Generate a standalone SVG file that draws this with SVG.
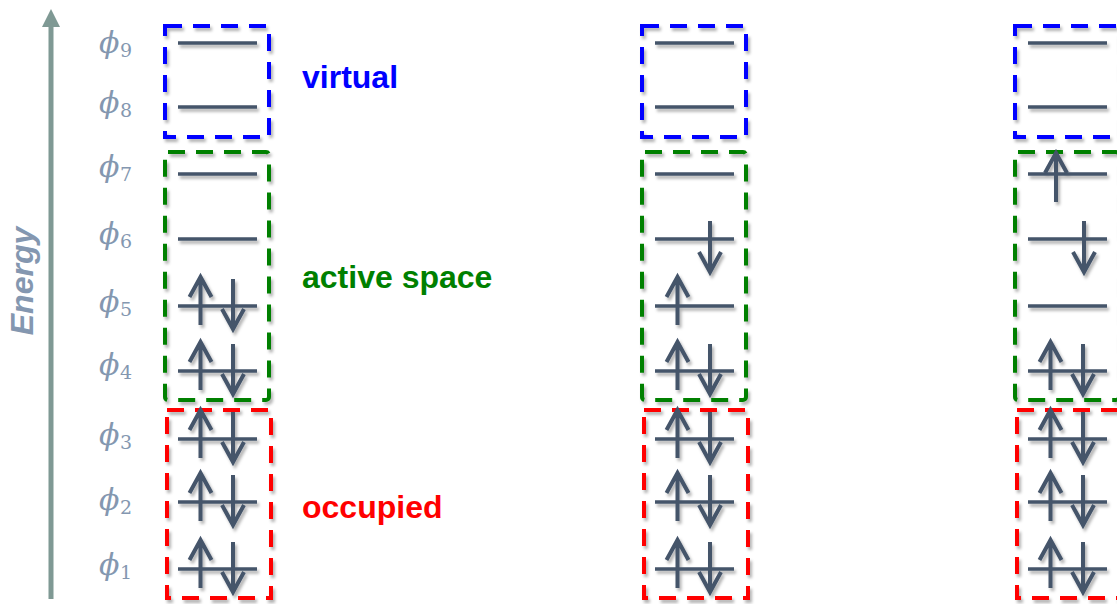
<svg xmlns="http://www.w3.org/2000/svg" width="1117" height="604" viewBox="0 0 1117 604">
<style>
.lvl{stroke:#44546a;stroke-width:3.5;fill:none}
.el{stroke:#44546a;stroke-width:4;fill:none;stroke-linejoin:miter}
.box{fill:none;stroke-width:4;stroke-dasharray:17 11}
.vir{stroke:#0000ff}
.act{stroke:#008000}
.occ{stroke:#ff0000}
.phi{font-family:"DejaVu Serif",serif;font-style:italic;font-size:30px;fill:#8497b0}
.sub{font-family:"DejaVu Serif",serif;font-style:normal;font-size:19px;fill:#8497b0}
.lab{font-family:"Liberation Sans",Arial,sans-serif;font-weight:bold;font-size:32px}
</style>
<defs>
<filter id="sh" filterUnits="userSpaceOnUse" x="0" y="0" width="1117" height="604">
<feDropShadow dx="2" dy="3" stdDeviation="1.6" flood-color="#000" flood-opacity="0.3"/>
</filter>
<path id="lv" class="lvl" d="M178 0H257"/>
<path id="up" class="el" d="M0 19V-29M-11 -9L0 -29L11 -9"/>
<path id="dn" class="el" d="M0 -27V23M-11 3L0 23L11 3"/>
<path id="up2" class="el" d="M0 28V-21M-11 -1L0 -21L11 -1"/>
<path id="dn2" class="el" d="M0 -18V33M-11 13L0 33L11 13"/>
<g id="pair"><use href="#up" x="200.5"/><use href="#dn" x="233"/></g>
<g id="levels">
<use href="#lv" y="43"/><use href="#lv" y="107"/><use href="#lv" y="174"/>
<use href="#lv" y="239"/><use href="#lv" y="306"/><use href="#lv" y="371"/>
<use href="#lv" y="439"/><use href="#lv" y="502"/><use href="#lv" y="569"/>
</g>
<g id="boxes">
<rect class="box vir" x="165" y="26" width="104" height="111"/>
<rect class="box act" x="165" y="152" width="104" height="248" rx="3"/>
<rect class="box occ" x="167" y="410" width="104" height="188"/>
</g>
<g id="core">
<use href="#pair" y="371"/><use href="#pair" y="439"/><use href="#pair" y="502"/><use href="#pair" y="569"/>
</g>
</defs>

<g id="energy-axis">
<line x1="51" y1="24" x2="51" y2="599" stroke="#7f9994" stroke-width="5"/>
<polygon points="51,9 42,27 60,27" fill="#7f9994"/>
<text transform="translate(33,281) rotate(-90)" text-anchor="middle" font-family="Liberation Sans,Arial,sans-serif" font-weight="bold" font-style="italic" font-size="32" fill="#8497b0">Energy</text>
</g>

<g id="orbital-labels">
<text class="phi" x="99" y="53">ϕ<tspan class="sub" x="120" y="57">9</tspan></text>
<text class="phi" x="99" y="113">ϕ<tspan class="sub" x="120" y="117">8</tspan></text>
<text class="phi" x="99" y="176.5">ϕ<tspan class="sub" x="120" y="180.5">7</tspan></text>
<text class="phi" x="99" y="244">ϕ<tspan class="sub" x="120" y="248">6</tspan></text>
<text class="phi" x="99" y="311.5">ϕ<tspan class="sub" x="120" y="315.5">5</tspan></text>
<text class="phi" x="99" y="375">ϕ<tspan class="sub" x="120" y="379">4</tspan></text>
<text class="phi" x="99" y="444.5">ϕ<tspan class="sub" x="120" y="448.5">3</tspan></text>
<text class="phi" x="99" y="510">ϕ<tspan class="sub" x="120" y="514">2</tspan></text>
<text class="phi" x="99" y="575">ϕ<tspan class="sub" x="120" y="579">1</tspan></text>
</g>

<g id="space-labels">
<text class="lab" x="302" y="88" fill="#0000ff">virtual</text>
<text class="lab" x="302" y="288" fill="#008000">active space</text>
<text class="lab" x="302" y="518" fill="#ff0000">occupied</text>
</g>

<g id="config-1" filter="url(#sh)">
<use href="#boxes"/>
<use href="#levels"/>
<use href="#core"/>
<use href="#pair" y="306"/>
</g>

<g id="config-2" filter="url(#sh)" transform="translate(477,0)">
<use href="#boxes"/>
<use href="#levels"/>
<use href="#core"/>
<use href="#dn2" x="233" y="239"/>
<use href="#up" x="200.5" y="306"/>
</g>

<g id="config-3" filter="url(#sh)" transform="translate(850,0)">
<use href="#boxes"/>
<use href="#levels"/>
<use href="#core"/>
<use href="#up2" x="206" y="174"/>
<use href="#dn2" x="234" y="239"/>
</g>

<g id="connectors"></g>
</svg>
